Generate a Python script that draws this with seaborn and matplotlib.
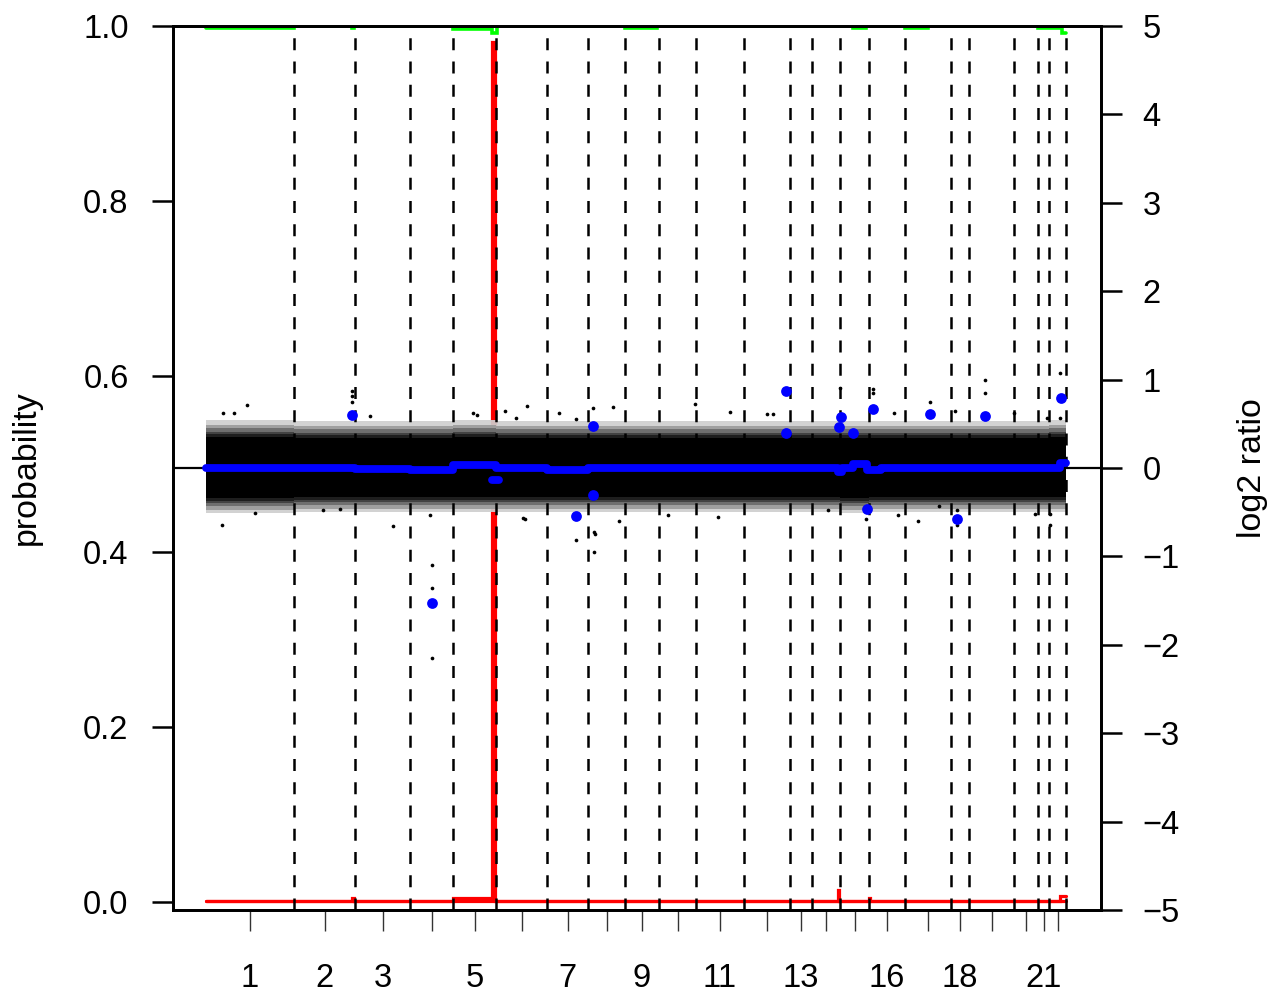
import numpy as np
import pandas as pd
import matplotlib
matplotlib.use("Agg")
import matplotlib.pyplot as plt
import seaborn as sns

# ---------------- data ----------------
chrom_labels = [str(i) for i in range(1, 23)]
chrom_lengths = [88, 61, 55, 43, 43, 51, 41, 37, 34, 37, 48, 46, 22, 28, 29, 36, 46, 18, 45, 24, 11, 17]
shown_labels = ["1", "2", "3", "5", "7", "9", "11", "13", "16", "18", "21"]

# dense log2-ratio cloud: solid core per chromosome
core_hi = [0.35, 0.34, 0.34, 0.34, 0.35, 0.34, 0.34, 0.34, 0.34, 0.34, 0.34, 0.34, 0.34, 0.34, 0.34, 0.34, 0.34, 0.34, 0.34, 0.34, 0.34, 0.35]
core_lo = [-0.34, -0.33, -0.33, -0.33, -0.33, -0.33, -0.33, -0.33, -0.33, -0.33, -0.33, -0.33, -0.33, -0.33, -0.34, -0.33, -0.33, -0.33, -0.33, -0.33, -0.33, -0.33]
# thinning of the cloud beyond the core: (extra log2 above core, extra below core, grey level)
fringe_up = [0.03, 0.06, 0.10, 0.14, 0.19]
fringe_down = [0.03, 0.055, 0.09, 0.13, 0.17]
fringe_grey = ["#1c1c1c", "#404040", "#6c6c6c", "#9c9c9c", "#cfcfcf"]

# isolated log2 values outside the cloud (genome position, log2)
out_pos = [40.7, 16.7, 28, 15.7, 49, 145.7, 145.7, 145.7, 164, 187.3, 267.3, 270.7, 299, 224, 134,
           117.3, 317.3, 320.7, 310, 353.3, 387.3, 407.3, 489, 370, 319, 370, 388, 389, 388, 512.3,
           462.3, 413.3, 560.7, 567.3, 524, 634, 666.7, 666.7, 688, 724, 749, 778.7, 778.7, 854, 854,
           808.3, 840.7, 750.7, 750.7, 829, 844, 844, 692.3, 712.3, 733.3, 660, 622.3, 225.7, 225.7, 225.7]
out_log2 = [0.71, 0.62, 0.62, -0.64, -0.51, 0.87, 0.81, 0.75, 0.59, -0.66, 0.62, 0.60, 0.64, -0.53, -0.46,
            -0.48, -0.56, 0.70, 0.56, 0.62, 0.68, 0.69, 0.72, 0.55, -0.58, -0.81, -0.72, -0.75, -0.95, -0.55,
            -0.53, -0.60, 0.61, 0.61, 0.63, 0.90, 0.89, 0.85, 0.62, 0.75, 0.65, 0.99, 0.85, 1.07, 0.56,
            0.62, 0.57, -0.48, -0.65, -0.52, -0.52, -0.65, -0.53, -0.60, -0.43, -0.58, -0.47, -1.10, -1.36, -2.15]

# segment means (blue): main segment line
seg_start = [0, 149, 204, 247, 290, 341, 382, 419, 632, 636, 647, 661, 675, 854]
seg_end   = [149, 204, 247, 290, 341, 382, 419, 632, 636, 647, 661, 675, 854, 860]
seg_log2  = [0.0, -0.01, -0.02, 0.035, 0.0, -0.02, -0.005, 0.0, -0.05, 0.0, 0.045, -0.02, 0.0, 0.06]
# short segment away from zero
blob_start = [285.5]
blob_end = [292.5]
blob_log2 = [-0.14]
blue_pos = [145.7, 225.7, 386.7, 386.7, 370.3, 580, 580, 634.7, 633.3, 647.3, 666.7, 660.7, 724, 751.3, 778.7, 854.7]
blue_log2 = [0.60, -1.53, 0.48, -0.30, -0.54, 0.87, 0.40, 0.58, 0.46, 0.40, 0.67, -0.46, 0.61, -0.58, 0.59, 0.79]

# state probabilities (red: aberrant, green: normal)
red_start = [0, 145.5, 148, 246.5, 286.2, 289.2, 632, 633, 662.5, 664, 854]
red_end   = [145.5, 148, 246.5, 286.2, 289.2, 632, 633, 662.5, 664, 854, 860]
red_prob  = [0.0015, 0.004, 0.0015, 0.0045, 0.982, 0.0015, 0.014, 0.0015, 0.004, 0.0015, 0.007]
green_start = [0, 88, 145.5, 148, 246.5, 285.5, 290.5, 419, 451, 647, 660, 699, 722, 832, 855.5]
green_end   = [88, 145.5, 148, 246.5, 285.5, 290.5, 419, 451, 647, 660, 699, 722, 832, 855.5, 860]
green_prob  = [0.998, 1.0, 0.998, 1.0, 0.9962, 0.992, 1.0, 0.998, 1.0, 0.998, 1.0, 0.998, 1.0, 0.998, 0.992]

# ---------------- helpers ----------------
lengths = np.array(chrom_lengths, dtype=float)
chr_end = np.cumsum(lengths)
chr_start = chr_end - lengths
chr_mid = chr_start + lengths / 2


def steps(starts, ends, vals):
    x = np.column_stack([starts, ends]).ravel()
    y = np.repeat(np.asarray(vals, dtype=float), 2)
    return x, y


sns.set_theme(style="white")
plt.rcParams["font.family"] = ["Liberation Sans", "DejaVu Sans"]
plt.rcParams["axes.unicode_minus"] = True

W, H = 1287, 1001
fig = plt.figure(figsize=(W / 100, H / 100), dpi=100)
fig.patch.set_facecolor("white")
ax = fig.add_axes([173 / W, 91 / H, 928 / W, 884 / H])
ax.set_facecolor("white")
ax.set_xlim(-33, 895)
ax.set_ylim(-8 / 876, 1.0)
ax2 = ax.twinx()
ax2.set_ylim(-5, 5)

# probabilities (under everything)
rx, ry = steps(red_start, red_end, red_prob)
ax.plot([0, chr_end[-1]], [0.0015, 0.0015], color="#FF0000", lw=2.3, zorder=2)
ax.plot(rx, ry, color="#FF0000", lw=2.3, zorder=2, solid_joinstyle="miter")
gx, gy = steps(green_start, green_end, green_prob)
ax.plot(gx, gy, color="#00FF00", lw=2.6, zorder=2, solid_joinstyle="miter")

# log2 cloud
cpos, chi = steps(chr_start, chr_end, core_hi)
_, clo = steps(chr_start, chr_end, core_lo)
cloud = pd.DataFrame({"pos": cpos, "hi": chi, "lo": clo})

ax2.axhline(0, color="black", lw=1.6, zorder=0.5)
nfr = len(fringe_grey)
for k in range(nfr - 1, -1, -1):
    ax2.fill_between(cloud["pos"], cloud["lo"] - fringe_down[k], cloud["hi"] + fringe_up[k],
                     color=fringe_grey[k], lw=0, alpha=0.93, zorder=1.5 + 0.01 * (nfr - k))
ax2.fill_between(cloud["pos"], cloud["lo"], cloud["hi"], color="black", lw=0, zorder=2)

outl = pd.DataFrame({"pos": out_pos, "log2": out_log2})
sns.scatterplot(data=outl, x="pos", y="log2", ax=ax2, color="black", s=7, marker="o",
                linewidth=0, zorder=2.2, legend=False)

# chromosome boundaries
for xb in chr_end:
    ax2.axvline(xb, ymin=0, ymax=1, color="black", lw=1.8, dashes=(4.8, 4.5), zorder=2.5)

# segment means
sx, sy = steps(seg_start, seg_end, seg_log2)
ax2.plot(sx, sy, color="#0000FF", lw=5.6, solid_capstyle="round", zorder=3)
for a, b, v in zip(blob_start, blob_end, blob_log2):
    ax2.plot([a, b], [v, v], color="#0000FF", lw=5.6, solid_capstyle="round", zorder=3)
bl = pd.DataFrame({"pos": blue_pos, "log2": blue_log2})
sns.scatterplot(data=bl, x="pos", y="log2", ax=ax2, color="#0000FF", s=60, marker="o",
                linewidth=0, zorder=3.2, legend=False)

# axes styling
for a in (ax, ax2):
    for sp in a.spines.values():
        sp.set_linewidth(2.0)
        sp.set_color("black")
        sp.set_visible(True)

ax.set_yticks([0, 0.2, 0.4, 0.6, 0.8, 1.0])
ax.set_yticklabels(["0.0", "0.2", "0.4", "0.6", "0.8", "1.0"])
ax.tick_params(axis="y", direction="out", length=15, width=1.8, pad=17, labelsize=23.5,
               left=True, colors="black")
ax2.set_yticks(range(-5, 6))
ax2.set_yticklabels([str(v).replace("-", "\u2212") for v in range(-5, 6)])
ax2.tick_params(axis="y", direction="out", length=15, width=1.8, pad=15, labelsize=23.5,
                right=True, colors="black")

ax.set_xticks(chr_mid)
ax.set_xticklabels([c if c in shown_labels else "" for c in chrom_labels])
ax.tick_params(axis="x", direction="out", length=15, width=1.0, pad=23, labelsize=23.5,
               bottom=True, color="#333333", labelcolor="black")
ax2.tick_params(axis="x", bottom=False, top=False, labelbottom=False)

ax.set_xlabel("")
ax.set_ylabel("probability", fontsize=24.5, color="black")
ax.yaxis.label.set_va("center")
ax.yaxis.set_label_coords((26 - 173) / 928, (910 - 468) / 884)
ax2.set_ylabel("log2 ratio", fontsize=24.5, color="black", rotation=90)
ax2.yaxis.label.set_va("center")
ax2.yaxis.set_label_coords((1253 - 173) / 928, (910 - 468) / 884)
ax.grid(False)
ax2.grid(False)

fig.savefig("out.png", dpi=100, facecolor="white")
